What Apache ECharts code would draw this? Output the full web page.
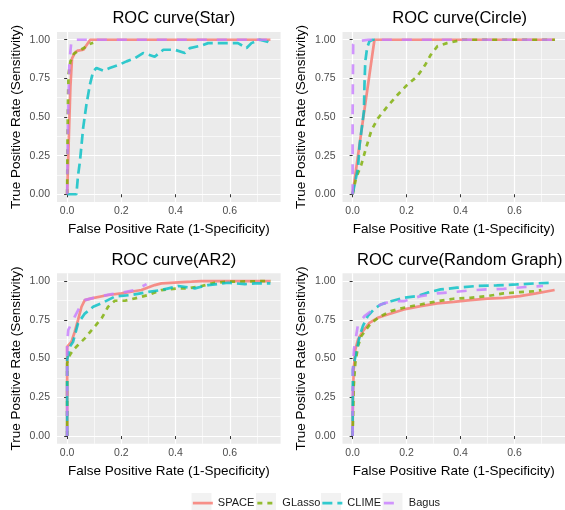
<!DOCTYPE html>
<html><head><meta charset="utf-8">
<script src="https://cdn.jsdelivr.net/npm/echarts@6/dist/echarts.min.js"></script>
<style>html,body{margin:0;padding:0;background:#fff}#c{width:565px;height:510px}</style>
</head><body><div id="c"></div>
<script>
// ---- data ----
const panelTitles = ['ROC curve(Star)', 'ROC curve(Circle)', 'ROC curve(AR2)', 'ROC curve(Random Graph)'];
const methods = ['SPACE', 'GLasso', 'CLIME', 'Bagus'];
const xTicks = [0, 0.2, 0.4, 0.6];
const yTicks = [0, 0.25, 0.5, 0.75, 1];
const xMinor = [0.1, 0.3, 0.5, 0.7];
const yMinor = [0.125, 0.375, 0.625, 0.875];
const xTitle = 'False Positive Rate (1-Specificity)';
const yTitle = 'True Positive Rate (Sensitivity)';

const starSPACE = [[0,0],[0.005,0.3],[0.012,0.7],[0.018,0.88],[0.03,0.92],[0.04,0.93],[0.06,0.935],[0.085,1.0],[0.75,1.0]];
const starGLasso = [[0,0],[0.001,0.3],[0.003,0.6],[0.005,0.78],[0.012,0.86],[0.025,0.91],[0.045,0.93],[0.065,0.95],[0.08,0.97],[0.096,0.98]];
const starCLIME = [[0,0],[0.034,0],[0.04,0.12],[0.047,0.21],[0.059,0.43],[0.071,0.58],[0.084,0.71],[0.096,0.795],[0.108,0.817],[0.133,0.80],[0.157,0.817],[0.194,0.84],[0.219,0.86],[0.25,0.88],[0.28,0.914],[0.323,0.89],[0.355,0.935],[0.397,0.935],[0.434,0.914],[0.453,0.946],[0.496,0.963],[0.52,0.978],[0.57,0.978],[0.63,0.978],[0.662,0.946],[0.68,0.978],[0.71,1.0],[0.742,0.985],[0.75,0.978]];
const starBagus = [[0,0],[0.003,0.5],[0.008,0.85],[0.016,1.0],[0.75,1.0]];

const circleSPACE = [[0,0],[0.04,0.5],[0.081,1.0],[0.75,1.0]];
const circleGLasso = [[0,0],[0.013,0.106],[0.032,0.19],[0.05,0.30],[0.069,0.41],[0.093,0.49],[0.13,0.57],[0.167,0.644],[0.203,0.709],[0.24,0.763],[0.27,0.84],[0.289,0.90],[0.314,0.957],[0.35,0.978],[0.393,0.994],[0.41,1.0],[0.75,1.0]];
const circleCLIME = [[0,0],[0.02,0.17],[0.026,0.32],[0.034,0.43],[0.042,0.54],[0.044,0.71],[0.047,0.86],[0.054,0.95],[0.0625,0.99],[0.075,1.0],[0.093,1.0]];
const circleBagus = [[0,0],[0,0.5],[0.002,0.97],[0.013,0.99],[0.06,1.0],[0.75,1.0]];

const ar2SPACE = [[0,0],[0,0.576],[0.016,0.609],[0.028,0.673],[0.04,0.748],[0.053,0.834],[0.065,0.877],[0.09,0.888],[0.151,0.91],[0.2,0.92],[0.274,0.942],[0.323,0.974],[0.348,0.985],[0.459,0.996],[0.496,1.0],[0.75,1.0]];
const ar2GLasso = [[0,0],[0,0.47],[0.01,0.523],[0.022,0.555],[0.04,0.587],[0.065,0.63],[0.096,0.695],[0.127,0.759],[0.151,0.834],[0.176,0.873],[0.213,0.873],[0.25,0.888],[0.3,0.91],[0.348,0.942],[0.41,0.953],[0.446,0.953],[0.496,0.968],[0.545,0.989],[0.594,0.996],[0.75,1.0]];
const ar2CLIME = [[0,0],[0,0.49],[0.01,0.576],[0.022,0.609],[0.04,0.727],[0.065,0.79],[0.096,0.834],[0.139,0.867],[0.176,0.9],[0.237,0.91],[0.3,0.93],[0.348,0.942],[0.41,0.968],[0.471,0.953],[0.52,0.974],[0.594,0.989],[0.656,0.98],[0.693,0.985],[0.75,0.985]];
const ar2Bagus = [[0,0],[0,0.6],[0.004,0.684],[0.016,0.727],[0.028,0.77],[0.047,0.834],[0.065,0.877],[0.09,0.888],[0.127,0.903],[0.164,0.916],[0.2,0.925],[0.25,0.942],[0.293,0.98]];

const randSPACE = [[0,0],[0.001,0.213],[0.004,0.43],[0.01,0.558],[0.02,0.623],[0.038,0.677],[0.0625,0.73],[0.093,0.763],[0.13,0.784],[0.19,0.817],[0.252,0.838],[0.314,0.856],[0.375,0.866],[0.436,0.877],[0.5,0.886],[0.559,0.892],[0.62,0.903],[0.68,0.92],[0.749,0.942]];
const randGLasso = [[0,0],[0.004,0.32],[0.01,0.47],[0.02,0.58],[0.032,0.644],[0.05,0.687],[0.069,0.73],[0.105,0.774],[0.142,0.806],[0.19,0.828],[0.252,0.849],[0.314,0.87],[0.375,0.886],[0.436,0.892],[0.5,0.903],[0.559,0.92],[0.62,0.929],[0.68,0.935],[0.7,0.942]];
const randCLIME = [[0,0],[0.001,0.43],[0.013,0.537],[0.026,0.644],[0.038,0.709],[0.056,0.774],[0.081,0.821],[0.105,0.849],[0.142,0.87],[0.19,0.892],[0.24,0.903],[0.277,0.925],[0.326,0.946],[0.387,0.957],[0.46,0.968],[0.534,0.972],[0.608,0.978],[0.68,0.985],[0.74,0.989]];
const randBagus = [[0,0],[0.001,0.43],[0.005,0.56],[0.02,0.72],[0.044,0.774],[0.069,0.806],[0.105,0.849],[0.142,0.87],[0.19,0.87],[0.252,0.903],[0.314,0.92],[0.375,0.929],[0.436,0.94],[0.5,0.946],[0.56,0.95],[0.63,0.96],[0.706,0.968]];

const panelData = [
  [starSPACE, starGLasso, starCLIME, starBagus],
  [circleSPACE, circleGLasso, circleCLIME, circleBagus],
  [ar2SPACE, ar2GLasso, ar2CLIME, ar2Bagus],
  [randSPACE, randGLasso, randCLIME, randBagus]
];

// ---- style / layout ----
const colors = ['#F8766D', '#7CAE00', '#00BFC4', '#C77CFF'];
const dashes = ['solid', [5, 5], [10, 5], [10, 10]];
const LW = 2.7;
const FONT = 'Liberation Sans, Arial, sans-serif';
const grids = [
  {left: 57, top: 32, width: 223.6, height: 170},
  {left: 342.5, top: 32, width: 224.4, height: 170},
  {left: 57, top: 273.3, width: 223.6, height: 170.5},
  {left: 342.5, top: 273.3, width: 224.4, height: 170.5}
];
const titleTops = [5, 5, 247, 247];
const legendLefts = [191.5, 256, 321, 382.5];

const option = {
  animation: false,
  backgroundColor: '#ffffff',
  title: [], grid: [], xAxis: [], yAxis: [], series: [], legend: [],
  graphic: []
};

methods.forEach((m, k) => {
  option.legend.push({
    data: [m], left: legendLefts[k], top: 497.5, padding: 0, itemWidth: 20, itemHeight: 14, itemGap: 0,
    itemStyle: {opacity: 0},
    lineStyle: {width: LW, opacity: 0.8},
    textStyle: {fontFamily: FONT, fontSize: 11, color: '#1a1a1a'}
  });
  option.graphic.push({type: 'rect', left: legendLefts[k], top: 493, shape: {width: 20, height: 17}, style: {fill: '#F2F2F2'}, z: -1, silent: true});
});

grids.forEach((g, i) => {
  option.grid.push(Object.assign({show: true, backgroundColor: '#EBEBEB', borderWidth: 0, containLabel: false}, g));
  option.title.push({
    text: panelTitles[i], left: g.left + g.width / 2, top: titleTops[i], textAlign: 'center',
    textStyle: {fontFamily: FONT, fontSize: 16.5, fontWeight: 'normal', color: '#000'}
  });
  option.xAxis.push({
    type: 'value', gridIndex: i, min: -0.0375, max: 0.7875, position: 'bottom',
    axisLine: {show: false},
    axisTick: {show: true, length: 3, customValues: xTicks, lineStyle: {color: '#333333', width: 1}},
    axisLabel: {show: true, customValues: xTicks, formatter: v => v.toFixed(1), color: '#4D4D4D', fontSize: 10.5, fontFamily: FONT, margin: 4},
    splitLine: {show: true, customValues: xTicks, lineStyle: {color: '#ffffff', width: 1.2}},
    name: xTitle, nameLocation: 'middle', nameGap: 20,
    nameTextStyle: {fontFamily: FONT, fontSize: 13.5, color: '#000'}
  });
  option.xAxis.push({
    type: 'value', gridIndex: i, min: -0.0375, max: 0.7875, position: 'top',
    axisLine: {show: false},
    axisTick: {show: false, customValues: xMinor},
    axisLabel: {show: false},
    splitLine: {show: true, customValues: xMinor, lineStyle: {color: '#ffffff', width: 0.6}}
  });
  option.yAxis.push({
    type: 'value', gridIndex: i, min: -0.05, max: 1.05, position: 'left',
    axisLine: {show: false},
    axisTick: {show: true, length: 3, customValues: yTicks, lineStyle: {color: '#333333', width: 1}},
    axisLabel: {show: true, customValues: yTicks, formatter: v => v.toFixed(2), color: '#4D4D4D', fontSize: 10.5, fontFamily: FONT, margin: 7},
    splitLine: {show: true, customValues: yTicks, lineStyle: {color: '#ffffff', width: 1.2}},
    name: yTitle, nameLocation: 'middle', nameGap: 34, nameRotate: 90,
    nameTextStyle: {fontFamily: FONT, fontSize: 13.5, color: '#000'}
  });
  option.yAxis.push({
    type: 'value', gridIndex: i, min: -0.05, max: 1.05, position: 'right',
    axisLine: {show: false},
    axisTick: {show: false, customValues: yMinor},
    axisLabel: {show: false},
    splitLine: {show: true, customValues: yMinor, lineStyle: {color: '#ffffff', width: 0.6}}
  });
  panelData[i].forEach((d, k) => {
    option.series.push({
      name: methods[k], type: 'line', xAxisIndex: 2 * i, yAxisIndex: 2 * i,
      data: d, symbol: 'none', showSymbol: false, clip: true,
      lineStyle: {color: colors[k], width: LW, type: dashes[k], opacity: 0.8},
      itemStyle: {color: colors[k]},
      z: 3
    });
  });
});

const chart = echarts.init(document.getElementById('c'), null, {renderer: 'canvas'});
chart.setOption(option);
</script></body></html>
